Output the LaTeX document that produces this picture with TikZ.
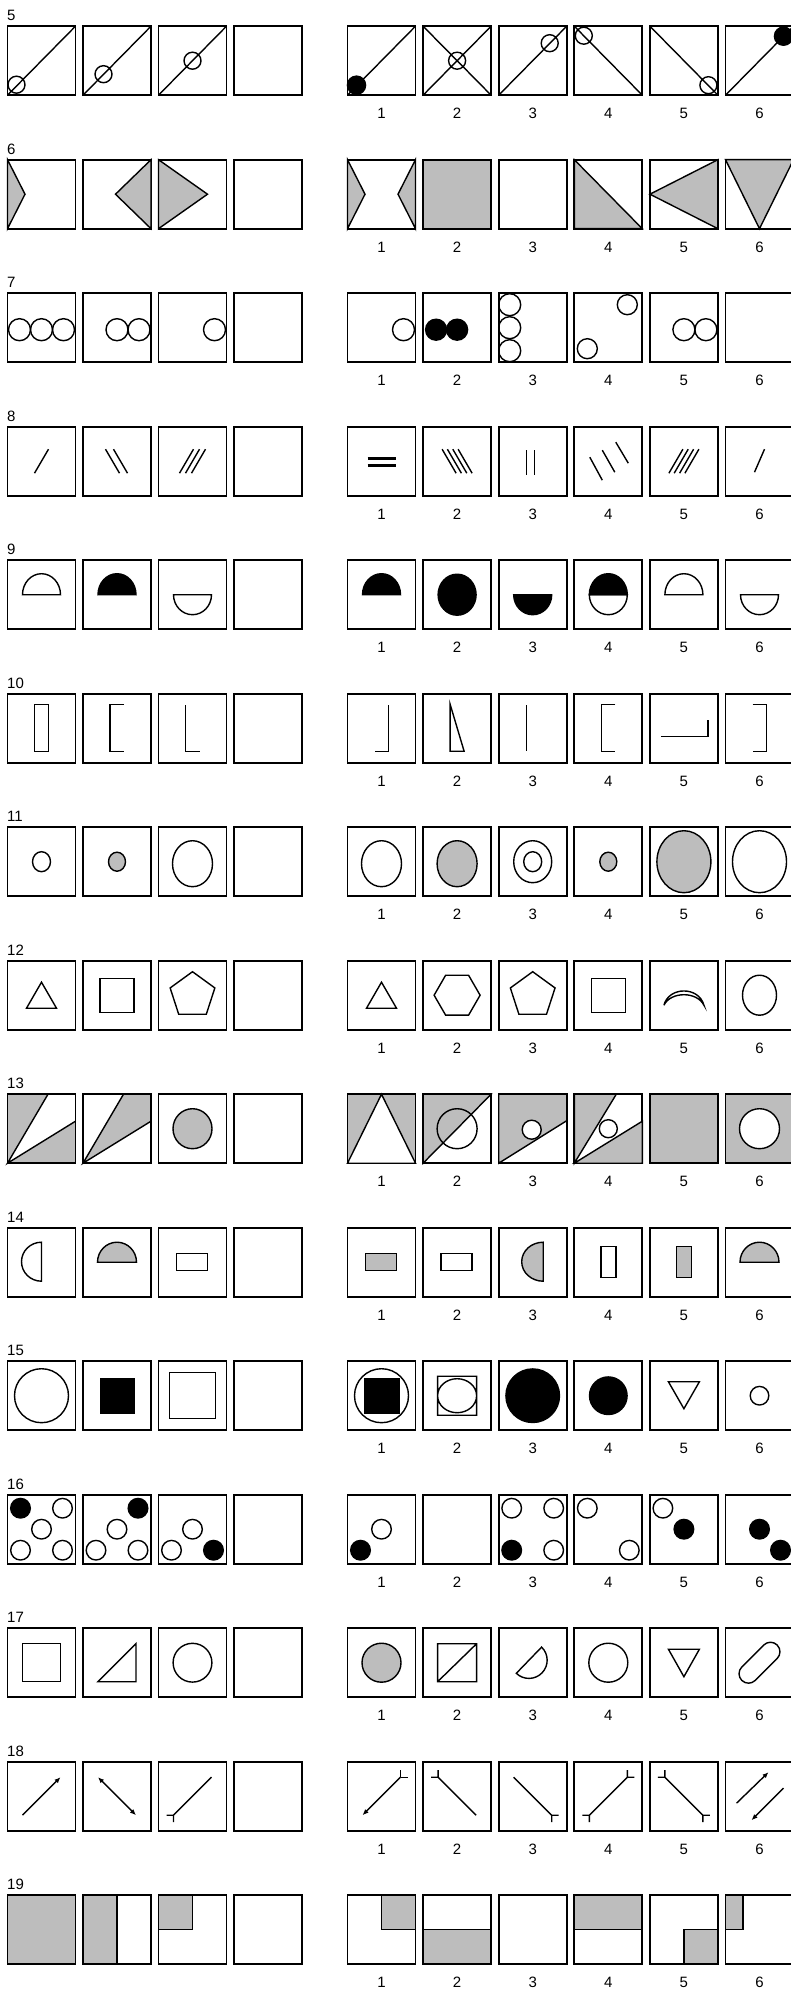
\documentclass[tikz,border=0pt]{standalone}
\usepackage{fontspec}
\setmainfont{Liberation Sans}
\usetikzlibrary{arrows.meta,shapes.geometric}
\definecolor{figgray}{RGB}{189,189,189}
\tikzset{
    cell/.style={draw, line width=1.8pt, minimum width=68pt, minimum height=69pt,
        inner sep=0pt, outer sep=0pt},
    rim/.style={line width=1.8pt},
    fig/.style={line width=1.4pt},
    grayfill/.style={fill=figgray},
    oncell/.style={shift={(#1.center)}},
    rowlbl/.style={font=\fontsize{15}{18}\selectfont, anchor=west, inner sep=0pt},
    numlbl/.style={font=\fontsize{15}{18}\selectfont, inner sep=0pt},
    tip/.style={-{Latex[length=6pt,width=5pt]}},
    tips/.style={{Latex[length=6pt,width=5pt]}-{Latex[length=6pt,width=5pt]}}
}
\def\hw{34}
\def\hh{34.5}

\begin{document}
\begin{tikzpicture}[x=1pt, y=-1pt]
    \useasboundingbox (0,0) rectangle (790,1993);
    % grid of cells, question numbers and answer numbers
    \foreach \r in {5,...,19} {
        \pgfmathsetmacro{\cy}{60.7+133.5*(\r-5)}
        \node[rowlbl] (lbl\r) at (7,\cy-45) {\r};
        \foreach \i in {1,...,4}
            \node[cell] (a\r-\i) at ({41.5+75.5*(\i-1)},\cy) {};
        \foreach \j in {1,...,6} {
            \node[cell] (b\r-\j) at ({381.5+75.6*(\j-1)},\cy) {};
            \node[numlbl] (n\r-\j) at ({381.5+75.6*(\j-1)},\cy+53) {\j};
        }
    }

    % 5
    \draw[fig,oncell=a5-1] (-\hw,\hh) -- (\hw,-\hh) (-25,24) circle[radius=8.5];
    \draw[fig,oncell=a5-2] (-\hw,\hh) -- (\hw,-\hh) (-13.5,13.5) circle[radius=8.5];
    \draw[fig,oncell=a5-3] (-\hw,\hh) -- (\hw,-\hh) (0,0) circle[radius=8.5];
    \draw[fig,oncell=b5-1] (-\hw,\hh) -- (\hw,-\hh);
    \fill[oncell=b5-1] (-25,24.5) circle[radius=9.8];
    \draw[fig,oncell=b5-2] (-\hw,\hh) -- (\hw,-\hh) (-\hw,-\hh) -- (\hw,\hh) (0,0) circle[radius=8.5];
    \draw[fig,oncell=b5-3] (-\hw,\hh) -- (\hw,-\hh) (17,-17.5) circle[radius=8.5];
    \draw[fig,oncell=b5-4] (-\hw,-\hh) -- (\hw,\hh) (-24.5,-25) circle[radius=8.5];
    \draw[fig,oncell=b5-5] (-\hw,-\hh) -- (\hw,\hh) (24.5,24.5) circle[radius=8.5];
    \draw[fig,oncell=b5-6] (-\hw,\hh) -- (\hw,-\hh);
    \fill[oncell=b5-6] (24,-24.5) circle[radius=9.8];

    % 6
    \filldraw[fig,grayfill,oncell=a6-1] (-\hw,-\hh) -- (-16.5,0) -- (-\hw,\hh) -- cycle;
    \filldraw[fig,grayfill,oncell=a6-2] (\hw,-\hh) -- (-1.5,0) -- (\hw,\hh) -- cycle;
    \filldraw[fig,grayfill,oncell=a6-3] (-\hw,-\hh) -- (15,0) -- (-\hw,\hh) -- cycle;
    \filldraw[fig,grayfill,oncell=b6-1] (-\hw,-\hh) -- (-16.5,0) -- (-\hw,\hh) -- cycle
        (\hw,-\hh) -- (16.5,0) -- (\hw,\hh) -- cycle;
    \filldraw[rim,grayfill,oncell=b6-2] (-\hw,-\hh) rectangle (\hw,\hh);
    \filldraw[fig,grayfill,oncell=b6-4] (-\hw,-\hh) -- (\hw,\hh) -- (-\hw,\hh) -- cycle;
    \filldraw[fig,grayfill,oncell=b6-5] (-\hw,0) -- (\hw,-\hh) -- (\hw,\hh) -- cycle;
    \filldraw[fig,grayfill,oncell=b6-6] (-\hw,-\hh) -- (\hw,-\hh) -- (0,\hh) -- cycle;

    % 7
    \foreach \x in {-22,0,22} \draw[fig,oncell=a7-1] (\x,2) circle[radius=11];
    \foreach \x in {0,22} \draw[fig,oncell=a7-2] (\x,2) circle[radius=11];
    \draw[fig,oncell=a7-3] (22,2) circle[radius=11];
    \draw[fig,oncell=b7-1] (22,2) circle[radius=11];
    \foreach \x in {-21,0} \filldraw[fig,oncell=b7-2] (\x,2) circle[radius=10.5];
    \foreach \y in {-23,0,23} \draw[fig,oncell=b7-3] (-23,\y) circle[radius=11];
    \draw[fig,oncell=b7-4] (19,-23) circle[radius=10] (-21,21) circle[radius=10];
    \foreach \x in {0,22} \draw[fig,oncell=b7-5] (\x,2) circle[radius=11];

    % 8
    \draw[fig,oncell=a8-1] (-7,12) -- (7,-12);
    \foreach \d in {-4.5,3.5} \draw[fig,oncell=a8-2] ({\d-7},-12) -- ({\d+7},12);
    \foreach \d in {-6,0,6} \draw[fig,oncell=a8-3] ({\d-7},12) -- ({\d+7},-12);
    \draw[line width=2.6pt,oncell=b8-1] (-14,-3) -- (14,-3) (-14,4) -- (14,4);
    \foreach \d in {-8,-2.7,2.7,8} \draw[fig,oncell=b8-2] ({\d-7},-12) -- ({\d+7},12);
    \draw[fig,oncell=b8-3] (-6,-11) -- (-6,14) (2,-11) -- (2,14);
    \draw[fig,oncell=b8-4] (-18.5,-4) -- (-6,19) (-6,-11) -- (6.5,11) (7.5,-19) -- (20,2);
    \foreach \d in {-8,-2.7,2.7,8} \draw[fig,oncell=b8-5] ({\d-7},12) -- ({\d+7},-12);
    \draw[fig,oncell=b8-6] (-5,11) -- (5,-12);

    % 9
    \draw[fig,oncell=a9-1] (-19,0) arc[start angle=180, end angle=360, x radius=19, y radius=21] -- cycle;
    \filldraw[fig,oncell=a9-2] (-19,0) arc[start angle=180, end angle=360, x radius=19, y radius=21] -- cycle;
    \draw[fig,oncell=a9-3] (-19,0) arc[start angle=180, end angle=0, x radius=19, y radius=20] -- cycle;
    \filldraw[fig,oncell=b9-1] (-19,0) arc[start angle=180, end angle=360, x radius=19, y radius=21] -- cycle;
    \filldraw[fig,oncell=b9-2] (0,0) circle[x radius=19, y radius=20.5];
    \filldraw[fig,oncell=b9-3] (-19,0) arc[start angle=180, end angle=0, x radius=19, y radius=20] -- cycle;
    \filldraw[fig,oncell=b9-4] (-19,0) arc[start angle=180, end angle=360, x radius=19, y radius=21] -- cycle;
    \draw[fig,oncell=b9-4] (-19,0) arc[start angle=180, end angle=0, x radius=19, y radius=20] -- cycle;
    \draw[fig,oncell=b9-5] (-19,0) arc[start angle=180, end angle=360, x radius=19, y radius=21] -- cycle;
    \draw[fig,oncell=b9-6] (-19,0) arc[start angle=180, end angle=0, x radius=19, y radius=20] -- cycle;

    % 10
    \draw[fig,oncell=a10-1] (-7,-24) rectangle (7,23);
    \draw[fig,oncell=a10-2] (7,-24) -- (-7,-24) -- (-7,23) -- (7,23);
    \draw[fig,oncell=a10-3] (-7,-23) -- (-7,23) -- (7,23);
    \draw[fig,oncell=b10-1] (7,-23) -- (7,23) -- (-7,23);
    \draw[fig,oncell=b10-2] (-7,-24) -- (-7,23) -- (7,23) -- cycle;
    \draw[fig,oncell=b10-3] (-6,-23) -- (-6,23);
    \draw[fig,oncell=b10-4] (7,-24) -- (-7,-24) -- (-7,23) -- (7,23);
    \draw[fig,oncell=b10-5] (-23,8) -- (24,8) -- (24,-8);
    \draw[fig,oncell=b10-6] (-7,-24) -- (7,-24) -- (7,23) -- (-7,23);

    % 11
    \draw[fig,oncell=a11-1] (0,0) circle[x radius=9, y radius=10];
    \filldraw[fig,grayfill,oncell=a11-2] (0,0) circle[x radius=8.5, y radius=9.5];
    \draw[fig,oncell=a11-3] (0,2) circle[x radius=20, y radius=23];
    \draw[fig,oncell=b11-1] (0,2) circle[x radius=20, y radius=23];
    \filldraw[fig,grayfill,oncell=b11-2] (0,2) circle[x radius=20, y radius=23];
    \draw[fig,oncell=b11-3] (0,0) circle[x radius=19, y radius=21] (0,0) circle[x radius=9, y radius=10];
    \filldraw[fig,grayfill,oncell=b11-4] (0,0) circle[x radius=8.5, y radius=9.5];
    \filldraw[fig,grayfill,oncell=b11-5] (0,0) circle[x radius=27, y radius=31];
    \draw[fig,oncell=b11-6] (0,0) circle[x radius=27, y radius=31];

    % 12
    \draw[fig,oncell=a12-1] (0,-13) -- (-15,13) -- (15,13) -- cycle;
    \draw[fig,oncell=a12-2] (-17,-17) rectangle (17,17);
    \node[fig,draw,regular polygon,regular polygon sides=5,minimum size=47pt,inner sep=0pt,oncell=a12-3] (pa12) at (0,2) {};
    \draw[fig,oncell=b12-1] (0,-13) -- (-15,13) -- (15,13) -- cycle;
    \node[fig,draw,regular polygon,regular polygon sides=6,minimum size=46pt,inner sep=0pt,oncell=b12-2] (hb12) at (0,-1) {};
    \node[fig,draw,regular polygon,regular polygon sides=5,minimum size=47pt,inner sep=0pt,oncell=b12-3] (pb12) at (0,2) {};
    \draw[fig,oncell=b12-4] (-17,-17) rectangle (17,17);
    \draw[fig,oncell=b12-5] (-20,10) .. controls (-15,-9) and (15,-9) .. (20,10)
        .. controls (13,-4) and (-13,-4) .. (-20,10);
    \draw[fig,oncell=b12-6] (0,0) circle[x radius=17, y radius=20];

    % 13
    \filldraw[rim,grayfill,oncell=a13-1] (-\hw,-\hh) rectangle (\hw,\hh);
    \fill[white,oncell=a13-1] (-\hw,\hh) -- (6.5,-\hh) -- (\hw,-\hh) -- (\hw,-7.5) -- cycle;
    \draw[fig,oncell=a13-1] (6.5,-\hh) -- (-\hw,\hh) -- (\hw,-7.5);
    \draw[rim,oncell=a13-1] (-\hw,-\hh) rectangle (\hw,\hh);
    \filldraw[fig,grayfill,oncell=a13-2] (-\hw,\hh) -- (6.5,-\hh) -- (\hw,-\hh) -- (\hw,-7.5) -- cycle;
    \draw[rim,oncell=a13-2] (-\hw,-\hh) rectangle (\hw,\hh);
    \filldraw[fig,grayfill,oncell=a13-3] (0,0) circle[x radius=19.5, y radius=20];
    \filldraw[rim,grayfill,oncell=b13-1] (-\hw,-\hh) rectangle (\hw,\hh);
    \filldraw[fig,fill=white,oncell=b13-1] (-\hw,\hh) -- (0,-\hh) -- (\hw,\hh) -- cycle;
    \filldraw[fig,grayfill,oncell=b13-2] (-\hw,\hh) -- (-\hw,-\hh) -- (\hw,-\hh) -- cycle;
    \draw[fig,oncell=b13-2] (0,0) circle[radius=20];
    \filldraw[fig,grayfill,oncell=b13-3] (-\hw,\hh) -- (-\hw,-\hh) -- (\hw,-\hh) -- (\hw,-8) -- cycle;
    \filldraw[fig,fill=white,oncell=b13-3] (-1,1) circle[radius=9.5];
    \filldraw[fig,grayfill,oncell=b13-4] (-\hw,\hh) -- (-\hw,-\hh) -- (8,-\hh) -- cycle
        (-\hw,\hh) -- (\hw,-7.5) -- (\hw,\hh) -- cycle;
    \draw[fig,oncell=b13-4] (0,0) circle[radius=9];
    \filldraw[rim,grayfill,oncell=b13-5] (-\hw,-\hh) rectangle (\hw,\hh);
    \filldraw[rim,grayfill,oncell=b13-6] (-\hw,-\hh) rectangle (\hw,\hh);
    \filldraw[fig,fill=white,oncell=b13-6] (0,0) circle[radius=20];

    % 14
    \draw[fig,oncell=a14-1] (0,-20) arc[start angle=270, end angle=90, x radius=20, y radius=19.5] -- cycle;
    \filldraw[fig,grayfill,oncell=a14-2] (-19.5,0) arc[start angle=180, end angle=360, x radius=19.5, y radius=20] -- cycle;
    \draw[fig,oncell=a14-3] (-16,-9) rectangle (15,8);
    \filldraw[fig,grayfill,oncell=b14-1] (-16,-9) rectangle (15,8);
    \draw[fig,oncell=b14-2] (-16,-9) rectangle (15,8);
    \filldraw[fig,grayfill,oncell=b14-3] (10.5,-20) arc[start angle=270, end angle=90, x radius=21.5, y radius=19.5] -- cycle;
    \draw[fig,oncell=b14-4] (-7.5,-16) rectangle (7.5,15);
    \filldraw[fig,grayfill,oncell=b14-5] (-7.5,-16) rectangle (7.5,15);
    \filldraw[fig,grayfill,oncell=b14-6] (-19.5,0) arc[start angle=180, end angle=360, x radius=19.5, y radius=20] -- cycle;

    % 15
    \draw[fig,oncell=a15-1] (0,0) circle[radius=27];
    \fill[oncell=a15-2] (-17.5,-18) rectangle (17.5,18);
    \draw[fig,oncell=a15-3] (-23,-23) rectangle (23,23);
    \draw[fig,oncell=b15-1] (0,0) circle[radius=27];
    \fill[oncell=b15-1] (-18,-18) rectangle (18,18);
    \draw[fig,oncell=b15-2] (-19.5,-19.5) rectangle (19.5,19.5) (0,0) circle[x radius=19.5, y radius=17];
    \fill[oncell=b15-3] (0,0) circle[radius=27.5];
    \fill[oncell=b15-4] (0,0) circle[radius=19.5];
    \draw[fig,oncell=b15-5] (-15.5,-14) -- (15.5,-14) -- (0,13) -- cycle;
    \draw[fig,oncell=b15-6] (0,0) circle[radius=9.3];

    % 16
    \filldraw[fig,oncell=a16-1] (-21,-21) circle[radius=9.8];
    \draw[fig,oncell=a16-1] (21,-21) circle[radius=9.8] (0,0) circle[radius=9.8]
        (-21,21) circle[radius=9.8] (21,21) circle[radius=9.8];
    \filldraw[fig,oncell=a16-2] (21,-21) circle[radius=9.8];
    \draw[fig,oncell=a16-2] (0,0) circle[radius=9.8] (-21,21) circle[radius=9.8] (21,21) circle[radius=9.8];
    \filldraw[fig,oncell=a16-3] (21,21) circle[radius=9.8];
    \draw[fig,oncell=a16-3] (0,0) circle[radius=9.8] (-21,21) circle[radius=9.8];
    \filldraw[fig,oncell=b16-1] (-21,21) circle[radius=9.8];
    \draw[fig,oncell=b16-1] (0,0) circle[radius=9.8];
    \filldraw[fig,oncell=b16-3] (-21,21) circle[radius=9.8];
    \draw[fig,oncell=b16-3] (-21,-21) circle[radius=9.8] (21,-21) circle[radius=9.8] (21,21) circle[radius=9.8];
    \draw[fig,oncell=b16-4] (-21,-21) circle[radius=9.8] (21,21) circle[radius=9.8];
    \draw[fig,oncell=b16-5] (-21,-21) circle[radius=9.8];
    \filldraw[fig,oncell=b16-5] (0,0) circle[radius=9.8];
    \filldraw[fig,oncell=b16-6] (0,0) circle[radius=9.8] (21,21) circle[radius=9.8];

    % 17
    \draw[fig,oncell=a17-1] (-19,-19) rectangle (19,19);
    \draw[fig,oncell=a17-2] (-19,19) -- (19,19) -- (19,-19) -- cycle;
    \draw[fig,oncell=a17-3] (0,0) circle[radius=19.4];
    \filldraw[fig,grayfill,oncell=b17-1] (0,0) circle[radius=19.5];
    \draw[fig,oncell=b17-2] (-19.5,-19) rectangle (19.5,19) (-19.5,19) -- (19.5,-19);
    \draw[fig,oncell=b17-3] (8.9,-15.6) arc[start angle=-46, end angle=134, radius=18.2] -- cycle;
    \draw[fig,oncell=b17-4] (0,0) circle[radius=19.5];
    \draw[fig,oncell=b17-5] (-15.5,-13.5) -- (15.5,-13.5) -- (0,14) -- cycle;
    \draw[fig,oncell=b17-6,rotate=45,rounded corners=9.5pt] (-25,-9.5) rectangle (25,9.5);

    % 18
    \draw[fig,tip,oncell=a18-1] (-19,19) -- (19,-19);
    \draw[fig,tips,oncell=a18-2] (-19,-19) -- (19,19);
    \draw[fig,oncell=a18-3] (19,-19) -- (-19,19) -- (-19,26) (-19,19) -- (-26,19);
    \draw[fig,tip,oncell=b18-1] (19,-19) -- (-19,19);
    \draw[fig,oncell=b18-1] (19,-19) -- (19,-26) (19,-19) -- (26,-19);
    \draw[fig,oncell=b18-2] (19,19) -- (-19,-19) -- (-19,-26) (-19,-19) -- (-26,-19);
    \draw[fig,oncell=b18-3] (-19,-19) -- (19,19) -- (19,26) (19,19) -- (26,19);
    \draw[fig,oncell=b18-4] (-19,26) -- (-19,19) -- (19,-19) -- (19,-26)
        (-26,19) -- (-19,19) (19,-19) -- (26,-19);
    \draw[fig,oncell=b18-5] (-19,-26) -- (-19,-19) -- (19,19) -- (19,26)
        (-26,-19) -- (-19,-19) (19,19) -- (26,19);
    \draw[fig,tip,oncell=b18-6] (-23,7) -- (9,-24);
    \draw[fig,tip,oncell=b18-6] (24,-8) -- (-8,24);

    % 19
    \filldraw[rim,grayfill,oncell=a19-1] (-\hw,-\hh) rectangle (\hw,\hh);
    \filldraw[fig,grayfill,oncell=a19-2] (-\hw,-\hh) rectangle (0,\hh);
    \filldraw[fig,grayfill,oncell=a19-3] (-\hw,-\hh) rectangle (0,0);
    \filldraw[fig,grayfill,oncell=b19-1] (0,-\hh) rectangle (\hw,0);
    \filldraw[fig,grayfill,oncell=b19-2] (-\hw,0) rectangle (\hw,\hh);
    \filldraw[fig,grayfill,oncell=b19-4] (-\hw,-\hh) rectangle (\hw,0);
    \filldraw[fig,grayfill,oncell=b19-5] (0,0) rectangle (\hw,\hh);
    \filldraw[fig,grayfill,oncell=b19-6] (-\hw,-\hh) rectangle (-16.5,0);
    \foreach \c in {a19-2,a19-3,b19-1,b19-2,b19-4,b19-5,b19-6}
        \draw[rim,oncell=\c] (-\hw,-\hh) rectangle (\hw,\hh);
\end{tikzpicture}
\end{document}
